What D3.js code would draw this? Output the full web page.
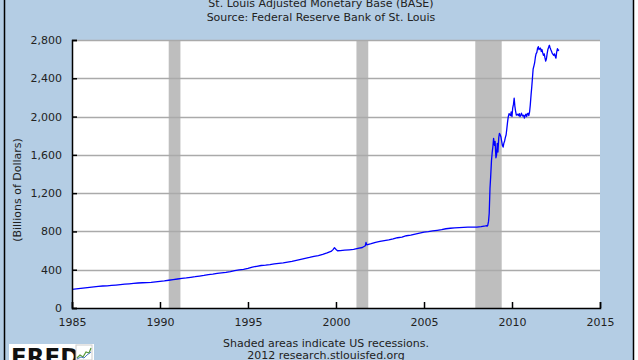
<!DOCTYPE html>
<html>
<head>
<meta charset="utf-8">
<script src="https://cdn.jsdelivr.net/npm/d3@7"></script>
<style>
  html, body { margin: 0; padding: 0; background: #fff; }
  svg { display: block; font-family: "DejaVu Sans", Verdana, sans-serif; }
</style>
</head>
<body>
<svg id="chart" width="638" height="360"></svg>
<script>
// quarterly readings 1985 - mid 2008, with a few extra points around Y2K and Sept 2001
const earlyDates = [
  "1985-01-01","1985-04-01","1985-07-01","1985-10-01",
  "1986-01-01","1986-04-01","1986-07-01","1986-10-01",
  "1987-01-01","1987-04-01","1987-07-01","1987-10-01",
  "1988-01-01","1988-04-01","1988-07-01","1988-10-01",
  "1989-01-01","1989-04-01","1989-07-01","1989-10-01",
  "1990-01-01","1990-04-01","1990-07-01","1990-10-01",
  "1991-01-01","1991-04-01","1991-07-01","1991-10-01",
  "1992-01-01","1992-04-01","1992-07-01","1992-10-01",
  "1993-01-01","1993-04-01","1993-07-01","1993-10-01",
  "1994-01-01","1994-04-01","1994-07-01","1994-10-01",
  "1995-01-01","1995-04-01","1995-07-01","1995-10-01",
  "1996-01-01","1996-04-01","1996-07-01","1996-10-01",
  "1997-01-01","1997-04-01","1997-07-01","1997-10-01",
  "1998-01-01","1998-04-01","1998-07-01","1998-10-01",
  "1999-01-01","1999-04-01","1999-07-01","1999-10-01","1999-11-01","1999-12-01",
  "2000-01-15","2000-02-01","2000-04-01","2000-07-01","2000-10-01",
  "2001-01-01","2001-04-01","2001-07-01","2001-09-01","2001-09-15","2001-10-01",
  "2002-01-01","2002-04-01","2002-07-01","2002-10-01",
  "2003-01-01","2003-04-01","2003-07-01","2003-10-01",
  "2004-01-01","2004-04-01","2004-07-01","2004-10-01",
  "2005-01-01","2005-04-01","2005-07-01","2005-10-01",
  "2006-01-01","2006-04-01","2006-07-01","2006-10-01",
  "2007-01-01","2007-04-01","2007-07-01","2007-10-01",
  "2008-01-01","2008-04-01"
];
const earlyValues = [
  195, 200, 205, 210,
  215, 220, 225, 230,
  232, 236, 240, 244,
  249, 253, 257, 261,
  264, 266, 268, 273,
  279, 283, 290, 296,
  303, 309, 314, 321,
  327, 334, 340, 348,
  354, 361, 367, 372,
  380, 390, 398, 404,
  415, 428, 436, 444,
  448, 453, 460, 466,
  472, 480, 488, 498,
  509, 518, 528, 540,
  547, 560, 575, 595, 610, 630,
  605, 598, 600, 605, 608,
  612, 622, 632, 650, 685, 660,
  672, 685, 695, 705,
  712, 722, 734, 741,
  755, 762, 772, 782,
  793, 798, 805, 812,
  818, 828, 833, 837,
  840, 843, 846, 846,
  846, 850
];

// semi-monthly readings from mid 2008 on
const lateDates = [
  "2008-07-01","2008-07-15","2008-08-01","2008-08-15","2008-09-01","2008-09-15",
  "2008-10-01","2008-10-15","2008-11-01","2008-11-15","2008-12-01","2008-12-15",
  "2009-01-01","2009-01-15","2009-02-01","2009-02-15","2009-03-01","2009-03-15",
  "2009-04-01","2009-04-15","2009-05-01","2009-05-15","2009-06-01","2009-06-15",
  "2009-07-01","2009-07-15","2009-08-01","2009-08-15","2009-09-01","2009-09-15",
  "2009-10-01","2009-10-15","2009-11-01","2009-11-15","2009-12-01","2009-12-15",
  "2010-01-01","2010-01-15","2010-02-01","2010-02-15","2010-03-01","2010-03-15",
  "2010-04-01","2010-04-15","2010-05-01","2010-05-15","2010-06-01","2010-06-15",
  "2010-07-01","2010-07-15","2010-08-01","2010-08-15","2010-09-01","2010-09-15",
  "2010-10-01","2010-10-15","2010-11-01","2010-11-15","2010-12-01","2010-12-15",
  "2011-01-01","2011-01-15","2011-02-01","2011-02-15","2011-03-01","2011-03-15",
  "2011-04-01","2011-04-15","2011-05-01","2011-05-15","2011-06-01","2011-06-15",
  "2011-07-01","2011-07-15","2011-08-01","2011-08-15","2011-09-01","2011-09-15",
  "2011-10-01","2011-10-15","2011-11-01","2011-11-15","2011-12-01","2011-12-15",
  "2012-01-01","2012-01-15","2012-02-01","2012-02-15","2012-03-01","2012-03-15",
  "2012-04-01","2012-04-15","2012-05-01","2012-05-15","2012-06-01","2012-06-15",
  "2012-07-01","2012-07-15","2012-08-01","2012-08-15","2012-09-01"
];
const lateValues = [
  858, 860, 855, 862, 905, 990,
  1248, 1370, 1540, 1620, 1690, 1772,
  1700, 1740, 1570, 1600, 1720, 1630,
  1780, 1825, 1810, 1790, 1740, 1700,
  1681, 1720, 1745, 1780, 1810, 1870,
  1945, 1996, 2030, 2020, 2010, 2050,
  2000, 2087, 2130, 2192, 2110, 2060,
  2015, 2020, 2025, 2010, 2030, 2000,
  2010, 2035, 2015, 2005, 2015, 1985,
  2010, 2025, 2000, 2030, 2035, 2010,
  2050, 2120, 2230, 2310, 2400, 2495,
  2530, 2560, 2620, 2655, 2670, 2713,
  2730, 2700, 2710, 2715, 2680, 2700,
  2665, 2640, 2655, 2615, 2580, 2600,
  2660, 2700, 2725, 2745, 2720, 2700,
  2680, 2660, 2650, 2640, 2655, 2630,
  2610, 2670, 2710, 2690, 2700
];

const recessionStarts = ["1990-07-01", "2001-03-01", "2007-12-01"];
const recessionEnds = ["1991-03-01", "2001-11-01", "2009-06-01"];

const yTicks = [0, 400, 800, 1200, 1600, 2000, 2400, 2800];
const xTickYears = [1985, 1990, 1995, 2000, 2005, 2010, 2015];

const parse = d3.timeParse("%Y-%m-%d");
const allValues = earlyValues.concat(lateValues);
const series = earlyDates.concat(lateDates).map((d, i) => ({
  date: parse(d),
  value: allValues[i]
}));

const svg = d3.select("#chart");
const margin = {top: 40, right: 38, bottom: 52, left: 72};
const width = 638 - margin.left - margin.right;
const height = 360 - margin.top - margin.bottom;

// frame
svg.append("rect").attr("width", 634).attr("height", 360).attr("fill", "#b4cde4");
svg.append("line").attr("x1", 4.5).attr("x2", 4.5).attr("y1", 0).attr("y2", 360)
  .attr("stroke", "#000").attr("stroke-width", 1.5);
svg.append("line").attr("x1", 633.5).attr("x2", 633.5).attr("y1", 0).attr("y2", 360)
  .attr("stroke", "#000").attr("stroke-width", 1.5);

const x = d3.scaleTime()
  .domain([new Date(1985, 0, 1), new Date(2015, 0, 1)])
  .range([0, width]);
const y = d3.scaleLinear().domain([0, 2800]).range([height, 0]);

const g = svg.append("g").attr("transform", "translate(" + margin.left + "," + margin.top + ")");

g.append("rect").attr("width", width).attr("height", height).attr("fill", "#fff");

g.selectAll(".recession")
  .data(recessionStarts)
  .enter().append("rect")
  .attr("class", "recession")
  .attr("x", (d) => x(parse(d)))
  .attr("y", 0)
  .attr("width", (d, i) => x(parse(recessionEnds[i])) - x(parse(d)))
  .attr("height", height)
  .attr("fill", "#bebebe");

// horizontal grid
g.selectAll(".grid")
  .data(yTicks.slice(1))
  .enter().append("line")
  .attr("class", "grid")
  .attr("x1", 0).attr("x2", width)
  .attr("y1", (d) => Math.round(y(d)) + 0.5)
  .attr("y2", (d) => Math.round(y(d)) + 0.5)
  .attr("stroke", "#aaa")
  .attr("stroke-width", 1.5);

const line = d3.line()
  .x((d) => x(d.date))
  .y((d) => y(d.value));

g.append("path")
  .datum(series)
  .attr("fill", "none")
  .attr("stroke", "#0000ff")
  .attr("stroke-width", 1.3)
  .attr("stroke-linejoin", "round")
  .attr("d", line);

// y axis
const yAxis = g.append("g")
  .call(d3.axisLeft(y).tickValues(yTicks).tickSize(-5).tickPadding(10).tickFormat(d3.format(",")));
yAxis.select(".domain").attr("stroke", "#000").attr("stroke-width", 1.5);
yAxis.selectAll(".tick line").attr("stroke", "#000").attr("stroke-width", 1.5);
yAxis.selectAll("text").attr("font-size", 11).attr("fill", "#222")
  .attr("font-family", "DejaVu Sans");

// x axis
const xAxis = g.append("g")
  .attr("transform", "translate(0," + height + ")")
  .call(d3.axisBottom(x)
    .tickValues(xTickYears.map((yr) => new Date(yr, 0, 1)))
    .tickSize(-6).tickPadding(10).tickFormat(d3.timeFormat("%Y")));
xAxis.select(".domain").attr("stroke", "#000").attr("stroke-width", 1.5);
xAxis.selectAll(".tick line").attr("stroke", "#000").attr("stroke-width", 1.5);
xAxis.selectAll("text").attr("font-size", 11).attr("fill", "#222")
  .attr("font-family", "DejaVu Sans");

// titles
const txt = (tx, ty, s) => svg.append("text")
  .attr("x", tx).attr("y", ty)
  .attr("text-anchor", "middle")
  .attr("font-size", 11)
  .attr("fill", "#222")
  .text(s);

txt(321, 7, "St. Louis Adjusted Monetary Base (BASE)");
txt(321, 21, "Source: Federal Reserve Bank of St. Louis");
txt(326, 347, "Shaded areas indicate US recessions.");
txt(326, 359, "2012 research.stlouisfed.org");

svg.append("text")
  .attr("transform", "translate(21,190) rotate(-90)")
  .attr("text-anchor", "middle")
  .attr("font-size", 11)
  .attr("fill", "#222")
  .text("(Billions of Dollars)");

// FRED logo
const logo = svg.append("g");
logo.append("rect").attr("x", 9).attr("y", 344).attr("width", 85).attr("height", 16).attr("fill", "#fff");
logo.append("text")
  .attr("x", 11).attr("y", 365)
  .attr("font-size", 23).attr("font-weight", "bold")
  .attr("font-family", "DejaVu Sans")
  .attr("fill", "#111")
  .text("FRED");
logo.append("rect").attr("x", 76).attr("y", 345).attr("width", 16).attr("height", 15)
  .attr("fill", "#fff").attr("stroke", "#ccc");
logo.append("polyline")
  .attr("points", "77,358 80,355 83,357 86,352 89,353 91,348")
  .attr("fill", "none").attr("stroke", "#5a9a3a").attr("stroke-width", 1.2);
logo.append("polyline")
  .attr("points", "77,359 81,357 84,358 87,355 91,352")
  .attr("fill", "none").attr("stroke", "#4a7ac0").attr("stroke-width", 1);
</script>
</body>
</html>
